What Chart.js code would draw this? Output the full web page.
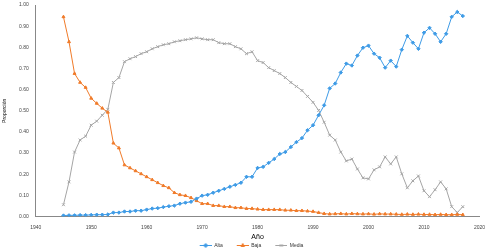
<!DOCTYPE html>
<html><head><meta charset="utf-8">
<script src="https://cdn.jsdelivr.net/npm/chart.js@4/dist/chart.umd.min.js"></script>
<style>html,body{margin:0;padding:0;background:#fff}#wrap{width:493px;height:251px}</style>
</head><body><div id="wrap"><canvas id="c" width="493" height="251"></canvas></div>
<script>
const years = [];
for (let y = 1945; y <= 2017; y++) years.push(y);
const xTicks = [1940,1950,1960,1970,1980,1990,2000,2010,2020];
const seriesNames = ["Alta","Baja","Media"];
const blue = [0.005,0.006,0.006,0.007,0.007,0.008,0.009,0.009,0.010,0.019,
0.019,0.024,0.024,0.028,0.028,0.033,0.038,0.040,0.045,0.049,
0.052,0.061,0.066,0.070,0.085,0.099,0.103,0.113,0.122,0.131,
0.141,0.150,0.160,0.188,0.188,0.230,0.235,0.254,0.272,0.296,
0.305,0.329,0.352,0.371,0.408,0.432,0.479,0.526,0.606,0.629,
0.681,0.723,0.714,0.761,0.798,0.808,0.770,0.751,0.704,0.737,
0.709,0.789,0.854,0.822,0.793,0.869,0.892,0.864,0.826,0.864,
0.944,0.967,0.948];
const orange = [0.944,0.826,0.676,0.634,0.610,0.559,0.535,0.512,0.493,0.347,
0.324,0.244,0.230,0.216,0.202,0.188,0.174,0.160,0.146,0.136,
0.113,0.103,0.099,0.089,0.075,0.061,0.061,0.052,0.052,0.047,
0.047,0.042,0.042,0.038,0.038,0.035,0.033,0.033,0.033,0.033,
0.030,0.030,0.028,0.028,0.026,0.024,0.019,0.014,0.012,0.013,
0.014,0.012,0.014,0.013,0.012,0.013,0.011,0.013,0.012,0.012,
0.011,0.010,0.011,0.010,0.011,0.010,0.010,0.009,0.010,0.009,
0.009,0.010,0.009];
const gray = [0.056,0.164,0.305,0.362,0.380,0.432,0.451,0.479,0.507,0.634,
0.657,0.732,0.746,0.756,0.770,0.779,0.793,0.803,0.812,0.817,
0.826,0.831,0.836,0.840,0.845,0.840,0.836,0.836,0.822,0.817,
0.817,0.803,0.793,0.770,0.779,0.737,0.728,0.704,0.690,0.676,
0.657,0.634,0.615,0.596,0.568,0.540,0.502,0.446,0.385,0.362,
0.305,0.263,0.272,0.225,0.183,0.178,0.221,0.235,0.282,0.249,
0.282,0.202,0.136,0.169,0.192,0.122,0.094,0.127,0.164,0.131,
0.047,0.019,0.047];

const COLORS = ['#3e9be6', '#f07b2a', '#a5a5a5'];
const STYLES = ['rectRot', 'triangle', 'crossRot'];
const ICON_W = 24;

function legendIcon(color, style) {
  const c = document.createElement('canvas');
  c.width = ICON_W; c.height = 5;
  const g = c.getContext('2d');
  g.strokeStyle = color; g.fillStyle = color; g.lineWidth = 1;
  g.beginPath(); g.moveTo(ICON_W - 12, 2.5); g.lineTo(ICON_W, 2.5); g.stroke();
  Chart.helpers.drawPoint(g, { pointStyle: style, radius: 2, borderWidth: 1 }, ICON_W - 6, 2.5);
  return c;
}

const pts = arr => arr.map((v,i)=>({x:years[i], y:v}));
const mk = (i, data, r) => ({
  label: seriesNames[i], data: pts(data), borderColor: COLORS[i], backgroundColor: COLORS[i],
  borderWidth: 1, pointStyle: STYLES[i], pointRadius: r, pointBorderWidth: 1,
  pointBackgroundColor: COLORS[i], pointBorderColor: COLORS[i], tension: 0
});
const F = 'Liberation Sans';
new Chart(document.getElementById('c'), {
  type: 'line',
  data: { datasets: [ mk(0, blue, 1.7), mk(1, orange, 1.7), mk(2, gray, 2) ]},
  options: {
    responsive: false, animation: false, devicePixelRatio: 1,
    layout: { padding: { left: 2, right: 4, top: 1, bottom: -7 } },
    plugins: {
      legend: { position: 'bottom', labels: { font: { family: F, size: 5 }, color: '#333',
        usePointStyle: true, pointStyleWidth: ICON_W, boxWidth: ICON_W, boxHeight: 3, padding: 2,
        generateLabels: chart => chart.data.datasets.map((d, i) => ({
          text: d.label, pointStyle: legendIcon(COLORS[i], STYLES[i]),
          fillStyle: COLORS[i], strokeStyle: COLORS[i], lineWidth: 0,
          fontColor: '#333', hidden: false, datasetIndex: i }))
      } },
      tooltip: { enabled: false }
    },
    scales: {
      x: { type: 'linear', min: 1940, max: 2020,
        afterBuildTicks: s => { s.ticks = xTicks.map(v => ({value: v})); },
        ticks: { font: { family: F, size: 5 }, color: '#444', maxRotation: 0, padding: 8,
          callback: v => String(v) },
        grid: { display: false, drawTicks: false },
        border: { display: true, dash: [2,2], color: '#888', width: 1 },
        title: { display: true, text: 'Año', font: { family: F, size: 7 }, color: '#000', padding: { top: -6, bottom: 0 } } },
      y: { min: 0, max: 1,
        afterFit: s => { s.paddingTop = 3; },
        ticks: { stepSize: 0.1, font: { family: F, size: 5 }, color: '#444', padding: 7,
          callback: v => v.toFixed(2) },
        grid: { display: false, drawTicks: false },
        border: { display: true, dash: [2,2], color: '#888', width: 1 },
        title: { display: true, text: 'Proporción', font: { family: F, size: 5 }, color: '#000', padding: { top: 0, bottom: 4 } } }
    }
  }
});
</script></body></html>
